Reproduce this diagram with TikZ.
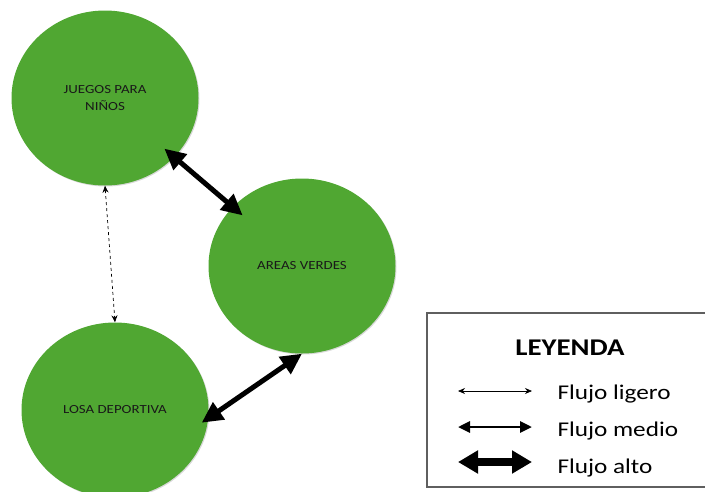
\documentclass[tikz,border=0pt]{standalone}
\usepackage{fontspec}
\setmainfont{Carlito}[FakeStretch=1.2]
\usetikzlibrary{arrows.meta,shapes.geometric,shadows}
\definecolor{zona}{RGB}{80,167,50}
\definecolor{marco}{RGB}{95,95,95}

\begin{document}
\begin{tikzpicture}[x=1pt, y=-1pt,
  area/.style={ellipse, fill=zona, minimum width=187pt, minimum height=175pt, inner sep=0pt,
    drop shadow={opacity=0.3, shadow xshift=1pt, shadow yshift=-1pt},
    align=center, text=black!90, font=\fontsize{12.4}{17}\selectfont},
  ligero/.style={{Stealth[length=7pt,width=6pt]}-{Stealth[length=7pt,width=6pt]}, line width=0.7pt},
  medio/.style={{Triangle[length=12pt,width=11pt]}-{Triangle[length=12pt,width=11pt]}, line width=2.8pt},
  alto/.style={{Triangle[length=20pt,width=22pt]}-{Triangle[length=20pt,width=22pt]}, line width=8pt},
  enlace/.style={{Triangle[length=21pt,width=20pt]}-{Triangle[length=21pt,width=20pt]}, line width=5pt},
  rotulo/.style={anchor=base west, font=\fontsize{21}{24}\selectfont}]
  \useasboundingbox (0,0) rectangle (705,491);
  \clip (0,0) rectangle (705,491);
  \node[area] (juegos) at (105,98) {JUEGOS PARA\\NIÑOS};
  \node[area] (areas) at (302,266) {AREAS VERDES};
  \node[area] (losa) at (115,410) {LOSA DEPORTIVA};
  \draw[ligero, dashed] (juegos.south) -- (losa.north);
  \draw[enlace, shorten <=-13pt, shorten >=-13pt] (juegos) -- (areas);
  \draw[enlace, shorten >=-8pt] (areas.south) -- (losa.-5);
  % leyenda
  \draw[marco, line width=1.2pt] (720,313) -| (427,487) -- (720,487);
  \node[anchor=base, font=\fontsize{24}{26}\selectfont\bfseries] (titulo) at (570,355) {LEYENDA};
  \coordinate (l1) at (458,391); \coordinate (r1) at (532,391);
  \coordinate (l2) at (458,427); \coordinate (r2) at (532,427);
  \coordinate (l3) at (458,462); \coordinate (r3) at (532,462);
  \draw[ligero] (l1) -- (r1);
  \draw[medio] (l2) -- (r2);
  \draw[alto] (l3) -- (r3);
  \node[rotulo] (t1) at (554,399) {Flujo ligero};
  \node[rotulo] (t2) at (554,436) {Flujo medio};
  \node[rotulo] (t3) at (554,473) {Flujo alto};
\end{tikzpicture}
\end{document}
